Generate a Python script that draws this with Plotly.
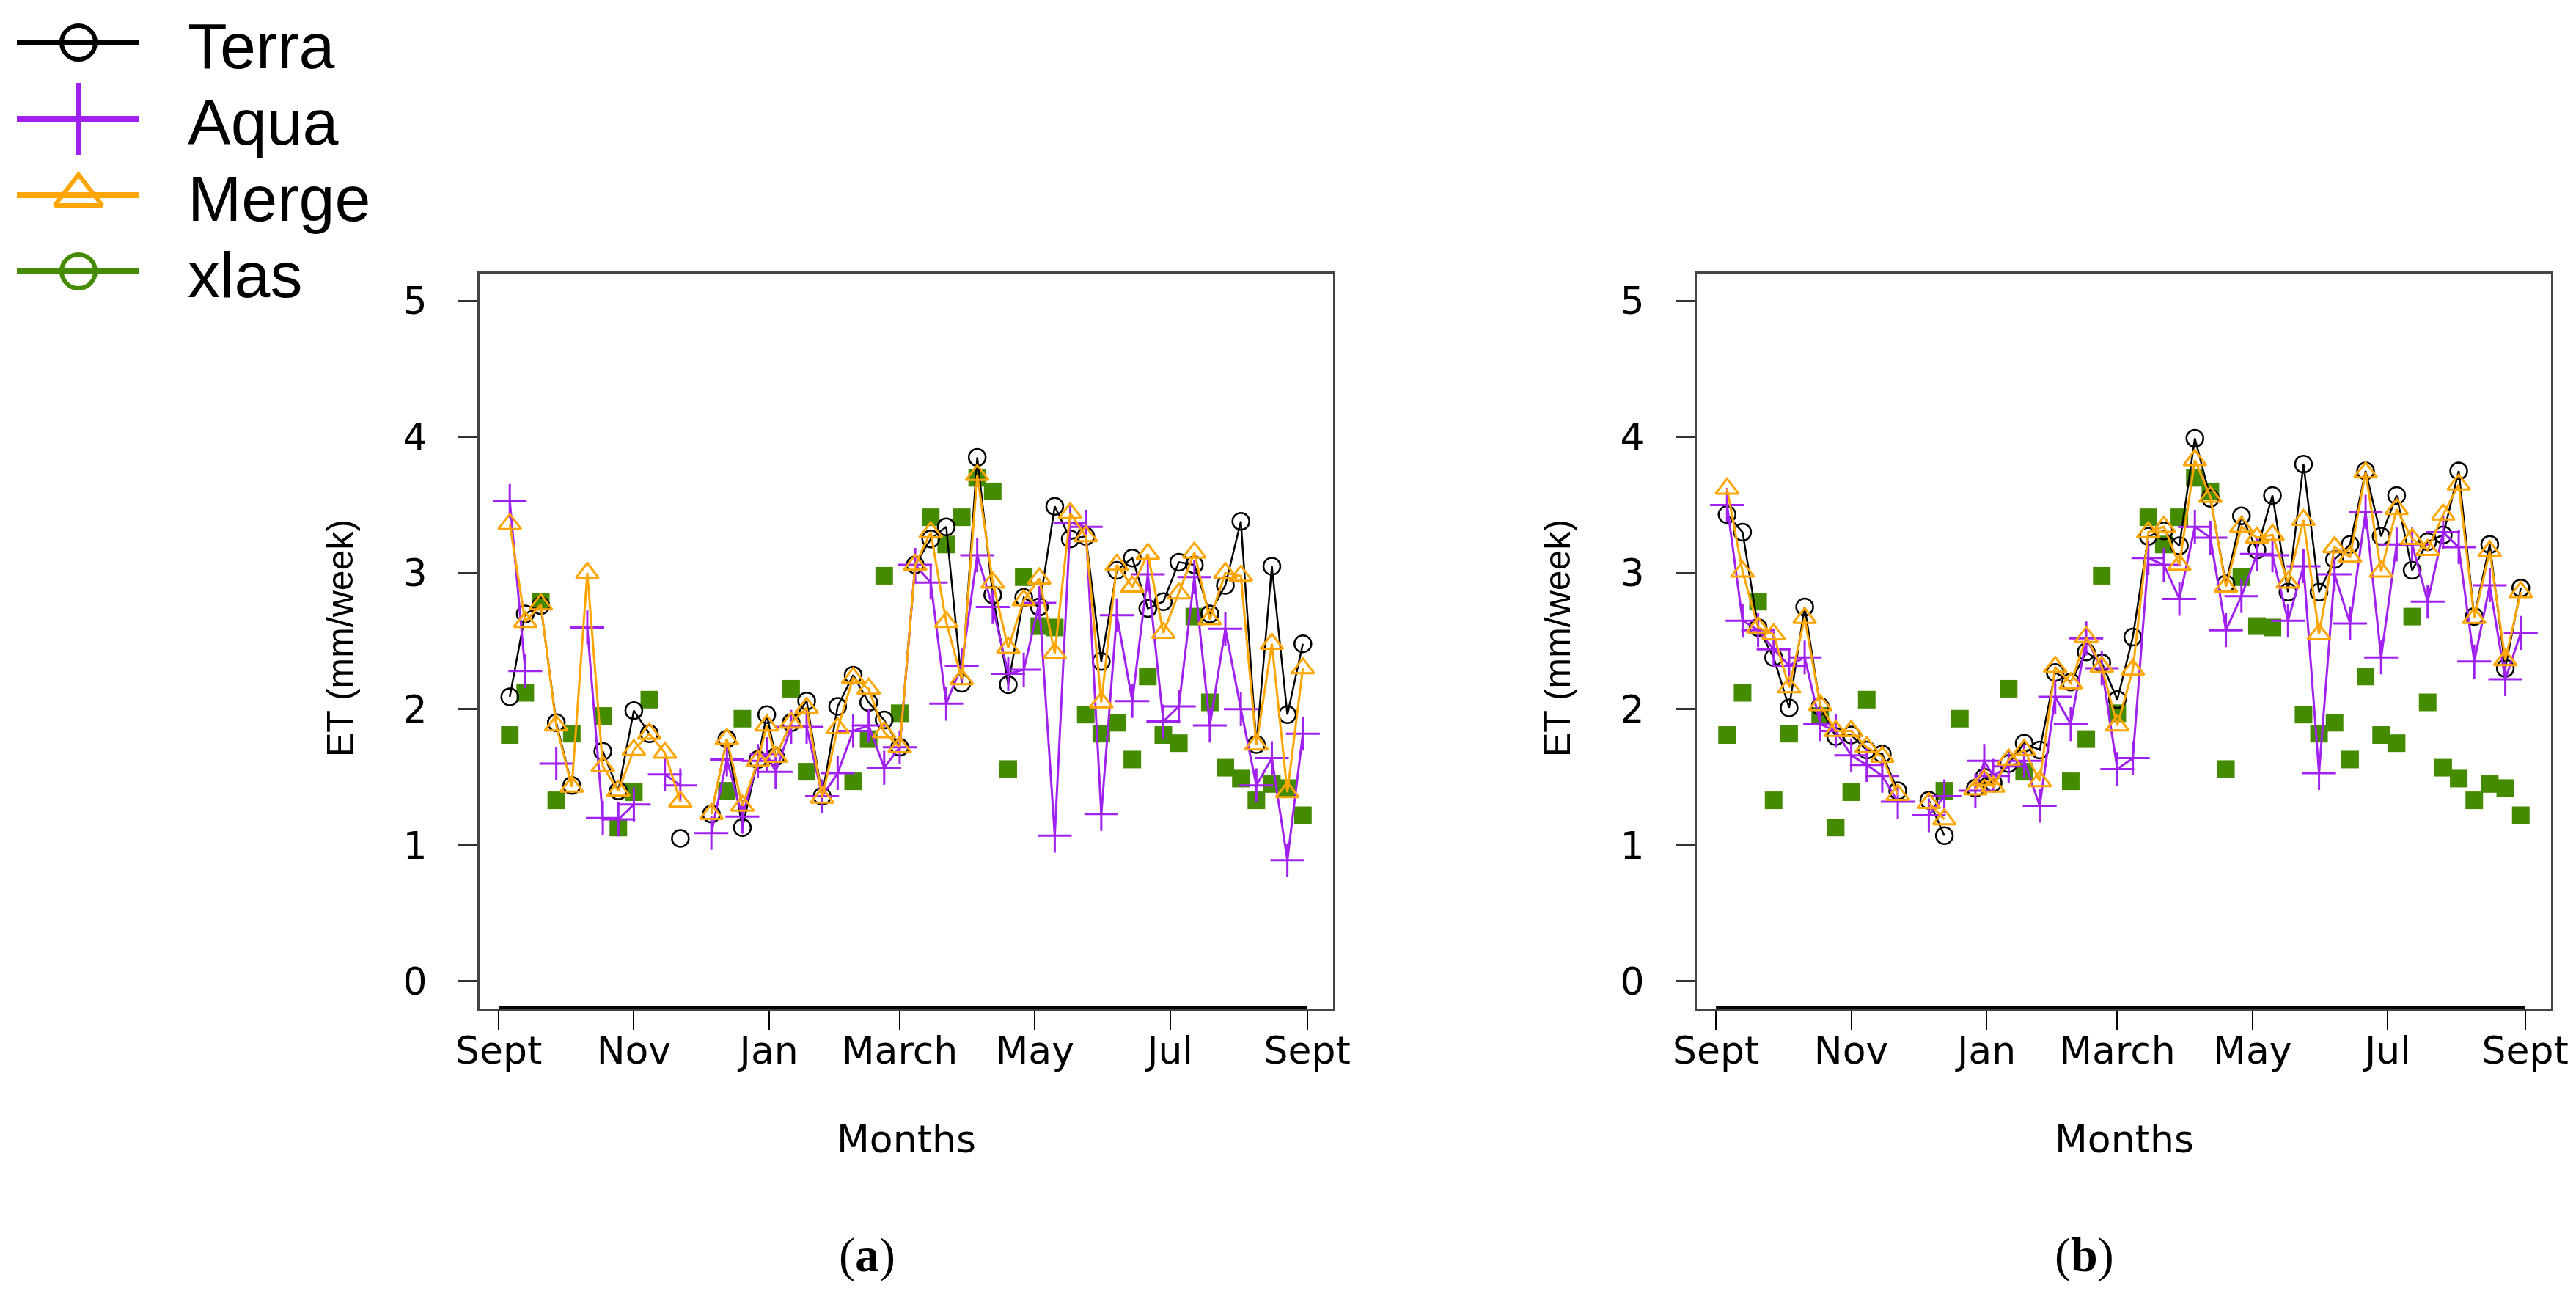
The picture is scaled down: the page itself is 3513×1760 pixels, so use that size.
import plotly.graph_objects as go

# ---------------- data ----------------
dates = [
    "2013-09-06", "2013-09-13", "2013-09-20", "2013-09-27", "2013-10-04", "2013-10-11",
    "2013-10-18", "2013-10-25", "2013-11-01", "2013-11-08", "2013-11-15", "2013-11-22",
    "2013-11-29", "2013-12-06", "2013-12-13", "2013-12-20", "2013-12-27", "2013-12-31",
    "2014-01-04", "2014-01-11", "2014-01-18", "2014-01-25", "2014-02-01", "2014-02-08",
    "2014-02-15", "2014-02-22", "2014-03-01", "2014-03-08", "2014-03-15", "2014-03-22",
    "2014-03-29", "2014-04-05", "2014-04-12", "2014-04-19", "2014-04-26", "2014-05-03",
    "2014-05-10", "2014-05-17", "2014-05-24", "2014-05-31", "2014-06-07", "2014-06-14",
    "2014-06-21", "2014-06-28", "2014-07-05", "2014-07-12", "2014-07-19", "2014-07-26",
    "2014-08-02", "2014-08-09", "2014-08-16", "2014-08-23", "2014-08-30",
]
N = None

terra_a = [2.09, 2.70, 2.76, 1.90, 1.44, N, 1.69, 1.40, 1.99, 1.82, N, 1.05, N, 1.23, 1.78, 1.13, 1.63,
           1.96,
           1.65, 1.90, 2.06, 1.36, 2.02, 2.25, 2.05, 1.92, 1.72, 3.06, 3.25, 3.34, 2.19, 3.85, 2.84, 2.18,
           2.82, 2.75, 3.49, 3.25, 3.27, 2.35, 3.02, 3.11, 2.74, 2.79, 3.08, 3.06, 2.70, 2.91, 3.38, 1.74,
           3.05, 1.96, 2.48]
aqua_a = [3.53, 2.28, N, 1.60, N, 2.60, 1.20, 1.19, 1.30, N, 1.52, 1.44, N, 1.09, 1.63, 1.21, 1.62,
          1.67,
          1.54, 1.87, 1.87, 1.36, 1.53, 1.84, 1.88, 1.57, 1.72, 3.06, 2.93, 2.04, 2.32, 3.13, 2.75, 2.26,
          2.29, 2.78, 1.07, 3.37, 3.34, 1.23, 2.69, 2.06, 2.99, 1.91, 2.02, 2.97, 1.88, 2.59, 2.00, 1.44,
          1.64, 0.89, 1.82]
merge_a = [3.36, 2.64, 2.77, 1.88, 1.43, 3.00, 1.58, 1.40, 1.70, 1.82, 1.68, 1.32, N, 1.23, 1.78, 1.29, 1.62,
           1.88,
           1.65, 1.90, 2.01, 1.35, 1.86, 2.23, 2.15, 1.83, 1.72, 3.06, 3.30, 2.64, 2.22, 3.72, 2.93, 2.45,
           2.80, 2.96, 2.41, 3.44, 3.27, 2.05, 3.06, 2.90, 3.14, 2.56, 2.85, 3.15, 2.66, 3.00, 2.98, 1.74,
           2.48, 1.39, 2.30]

terra_b = [3.43, 3.30, 2.60, 2.38, 2.01, 2.75, 2.02, 1.80, 1.81, 1.70, 1.67, 1.40, N, 1.33, 1.07, N, 1.42,
           1.50,
           1.46, 1.60, 1.75, 1.70, 2.27, 2.20, 2.42, 2.34, 2.07, 2.53, 3.27, 3.31, 3.20, 3.99, 3.55, 2.92,
           3.42, 3.17, 3.57, 2.86, 3.80, 2.86, 3.10, 3.21, 3.75, 3.27, 3.57, 3.02, 3.23, 3.28, 3.75, 2.68,
           3.21, 2.30, 2.89]
aqua_b = [3.50, 2.65, 2.58, 2.44, 2.32, 2.38, 1.89, 1.84, 1.66, 1.59, 1.51, 1.32, N, 1.22, 1.36, N, 1.40,
          1.62,
          1.51, 1.58, 1.62, 1.29, 2.09, 1.89, 2.52, 2.30, 1.56, 1.64, 3.11, 3.06, 2.81, 3.34, 3.26, 2.58,
          2.83, 3.14, 3.13, 2.65, 3.05, 1.53, 2.99, 2.63, 3.45, 2.38, 3.21, 3.21, 2.79, 3.30, 3.19, 2.35,
          2.91, 2.22, 2.56]
merge_b = [3.62, 3.01, 2.60, 2.55, 2.16, 2.67, 2.03, 1.84, 1.84, 1.72, 1.65, 1.37, N, 1.31, 1.19, N, 1.41,
           1.48,
           1.43, 1.63, 1.70, 1.47, 2.31, 2.19, 2.53, 2.31, 1.88, 2.29, 3.30, 3.34, 3.06, 3.83, 3.56, 2.90,
           3.34, 3.26, 3.28, 2.93, 3.39, 2.55, 3.19, 3.12, 3.74, 3.01, 3.47, 3.25, 3.17, 3.43, 3.65, 2.67,
           3.16, 2.36, 2.86]

xlas = [1.81, 2.12, 2.79, 1.33, 1.82, N, 1.95, 1.13, 1.39, 2.07, N, N, N, N, 1.40, 1.93, N,
        N,
        N, 2.15, 1.54, N, N, 1.47, 1.78, 2.98, 1.97, N, 3.41, 3.21, 3.41, 3.70, 3.60, 1.56,
        2.97, 2.61, 2.60, N, 1.96, 1.82, 1.90, 1.63, 2.24, 1.81, 1.75, 2.68, 2.05, 1.57, 1.49, 1.33,
        1.45, 1.42, 1.22]

tick_dates = ["2013-09-01", "2013-11-01", "2014-01-01", "2014-03-01", "2014-05-01", "2014-07-01", "2014-09-01"]
tick_text = ["Sept", "Nov", "Jan", "March", "May", "Jul", "Sept"]
y_ticks = [0, 1, 2, 3, 4, 5]

series_names = ["Terra", "Aqua", "Merge", "xlas"]

# ---------------- style ----------------
W, H = 3513, 1760
BLACK = "#000000"
PURPLE = "#A020F0"
ORANGE = "#FFA500"
GREEN = "#458B00"
FONT = "Liberation Sans"
AXFONT = "DejaVu Sans"
AX_SIZE = 52

X_RANGE = ["2013-08-23 08:30", "2014-09-12 15:30"]
Y_RANGE = [-0.2, 5.2]

box_top, box_bot = 365, 1367
panels = [
    dict(xa="x", ya="y", left=646, right=1810, data=(terra_a, aqua_a, merge_a, xlas), cap="a"),
    dict(xa="x2", ya="y2", left=2306, right=3471, data=(terra_b, aqua_b, merge_b, xlas), cap="b"),
]

fig = go.Figure()

for p in panels:
    terra, aqua, merge, xl = p["data"]
    common = dict(x=dates, xaxis=p["xa"], yaxis=p["ya"], showlegend=False, hoverinfo="skip")
    fig.add_trace(go.Scatter(y=xl, mode="markers",
                             marker=dict(symbol="square", size=24, color=GREEN), **common))
    fig.add_trace(go.Scatter(y=terra, mode="lines+markers", line=dict(color=BLACK, width=2.5),
                             marker=dict(symbol="circle-open", size=23, color=BLACK,
                                         line=dict(width=2.5, color=BLACK)), **common))
    fig.add_trace(go.Scatter(y=aqua, mode="lines+markers", line=dict(color=PURPLE, width=3),
                             marker=dict(symbol="cross-thin-open", size=33, color=PURPLE,
                                         line=dict(width=3, color=PURPLE)), **common))
    fig.add_trace(go.Scatter(y=merge, mode="lines+markers", line=dict(color=ORANGE, width=3),
                             marker=dict(symbol="triangle-up-open", size=27, color=ORANGE,
                                         line=dict(width=3, color=ORANGE)), **common))

layout = dict(
    width=W, height=H, margin=dict(l=0, r=0, t=0, b=0, autoexpand=False),
    paper_bgcolor="white", plot_bgcolor="rgba(0,0,0,0)",
    showlegend=False, font=dict(family=FONT, color="black"),
)

annotations = []
shapes = []
for i, p in enumerate(panels):
    sfx = "" if i == 0 else "2"
    xdom = [p["left"] / W, p["right"] / W]
    ydom = [1 - box_bot / H, 1 - box_top / H]
    layout["xaxis" + sfx] = dict(
        domain=xdom, anchor="y" + sfx, type="date", range=X_RANGE, automargin=False,
        tickmode="array", tickvals=tick_dates, ticktext=tick_text,
        ticks="outside", ticklen=26, tickwidth=2, tickcolor="black",
        tickfont=dict(size=AX_SIZE, family=AXFONT), showgrid=False, zeroline=False,
        showline=True, mirror=True, linecolor="#444444", linewidth=3,
        ticklabelstandoff=-16,
    )
    layout["yaxis" + sfx] = dict(
        domain=ydom, anchor="x" + sfx, range=Y_RANGE, automargin=False,
        tickmode="array", tickvals=y_ticks, ticktext=[str(v) for v in y_ticks],
        ticks="outside", ticklen=26, tickwidth=3, tickcolor="#333333",
        tickfont=dict(size=AX_SIZE, family=AXFONT), showgrid=False, zeroline=False,
        showline=True, mirror=True, linecolor="#444444", linewidth=3,
        ticklabelstandoff=32,
    )
    # bottom axis line between first and last tick (R style)
    shapes.append(dict(type="line", xref=p["xa"], yref=p["ya"],
                       x0=tick_dates[0], x1=tick_dates[-1], y0=Y_RANGE[0], y1=Y_RANGE[0],
                       line=dict(color="black", width=6)))
    cx = (p["left"] + p["right"]) / 2 / W
    annotations.append(dict(text="Months", x=cx, y=1 - 1545 / H, xref="paper", yref="paper",
                            xanchor="center", yanchor="middle", showarrow=False,
                            font=dict(size=AX_SIZE, family=AXFONT)))
    annotations.append(dict(text="ET (mm/week)", x=(p["left"] - 190) / W, y=1 - 862 / H,
                            xref="paper", yref="paper", textangle=-90, showarrow=False,
                            xanchor="center", yanchor="middle",
                            font=dict(size=50, family=FONT)))
    annotations.append(dict(text="(<b>%s</b>)" % p["cap"], x=(cx * W - 54) / W, y=1 - 1703 / H,
                            xref="paper", yref="paper", xanchor="center", yanchor="middle",
                            showarrow=False, font=dict(size=66, family="Liberation Serif")))

# ---------------- custom legend (top-left) ----------------
LEG_W, LEG_H = 620, 420
layout["xaxis3"] = dict(domain=[0, LEG_W / W], range=[0, LEG_W], visible=False, anchor="y3",
                        fixedrange=True, automargin=False)
layout["yaxis3"] = dict(domain=[1 - LEG_H / H, 1], range=[LEG_H, 0], visible=False, anchor="x3",
                        fixedrange=True, automargin=False)
leg_styles = [
    (BLACK, "circle-open", 46),
    (PURPLE, "cross-thin-open", 70),
    (ORANGE, "triangle-up-open", 56),
    (GREEN, "circle-open", 46),
]
row0, row_gap = 50, 104
for i, (name, (col, sym, sz)) in enumerate(zip(series_names, leg_styles)):
    yy = row0 + row_gap * i
    fig.add_trace(go.Scatter(x=[15, 182], y=[yy, yy], mode="lines", line=dict(color=col, width=8),
                             xaxis="x3", yaxis="y3", showlegend=False, hoverinfo="skip"))
    fig.add_trace(go.Scatter(x=[99], y=[yy], mode="markers",
                             marker=dict(symbol=sym, size=sz, color=col, line=dict(width=6, color=col)),
                             xaxis="x3", yaxis="y3", showlegend=False, hoverinfo="skip"))
    annotations.append(dict(text=name, x=246, y=yy + 4, xref="x3", yref="y3", xanchor="left",
                            yanchor="middle", showarrow=False, font=dict(size=88, family=FONT)))

layout["annotations"] = annotations
layout["shapes"] = shapes
fig.update_layout(**layout)
fig.write_html("out.html")
